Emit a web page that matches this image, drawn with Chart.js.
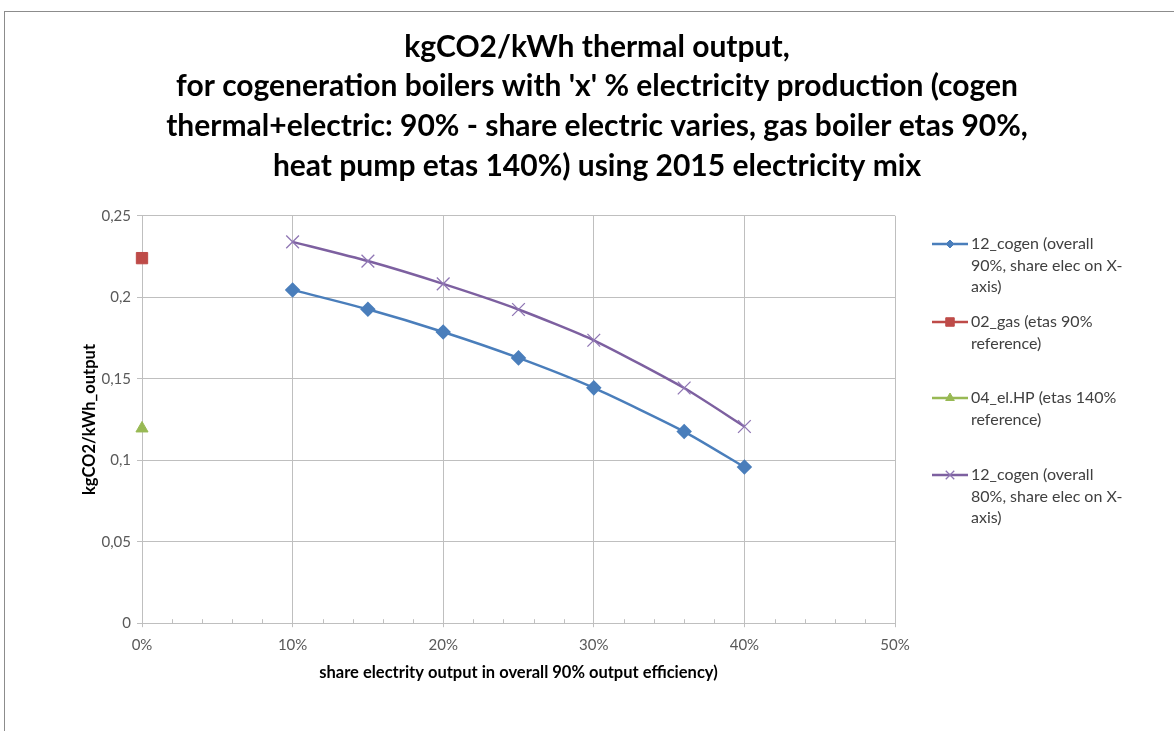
<!DOCTYPE html>
<html>
<head>
<meta charset="utf-8">
<script src="https://cdn.jsdelivr.net/npm/chart.js@4.4.0/dist/chart.umd.min.js"></script>
<style>
  html, body { margin: 0; padding: 0; background: #fff; }
  #wrap { position: relative; width: 1174px; height: 731px; overflow: hidden; }
  #frame { position: absolute; left: 4px; top: 11px; width: 1300px; height: 900px;
           border-left: 1px solid #8c8c8c; border-top: 1px solid #8c8c8c; }
  #chart { position: absolute; left: 0; top: 0; }
</style>
</head>
<body>
<div id="wrap">
  <div id="frame"></div>
  <canvas id="chart" width="1174" height="731"></canvas>
</div>
<script>
// data
const shareElec = [10, 15, 20, 25, 30, 36, 40];
const cogen90 = [0.2045, 0.1926, 0.1787, 0.1628, 0.1444, 0.1176, 0.0958];
const cogen80 = [0.2340, 0.2222, 0.2082, 0.1925, 0.1736, 0.1443, 0.1207];
const gasX = [0];
const gasRef = [0.224];
const hpX = [0];
const hpRef = [0.1195];

const seriesNames = [
    ['12_cogen (overall', '90%, share elec on X-', 'axis)'],
    ['02_gas (etas 90%', 'reference)'],
    ['04_el.HP (etas 140%', 'reference)'],
    ['12_cogen (overall', '80%, share elec on X-', 'axis)']
];
const titleLines = [
    'kgCO2/kWh thermal output,',
    "for cogeneration boilers with 'x' % electricity production (cogen",
    'thermal+electric: 90% - share electric varies, gas boiler etas 90%,',
    'heat pump etas 140%) using 2015 electricity mix'
];

function pts(xs, ys) {
    return xs.map(function(x, i) { return { x: x, y: ys[i] }; });
}

const FONT = 'Lato, "Open Sans", sans-serif';
const GRID = '#bfbfbf';

// minor tick marks on the x axis (every 2%), drawn inside the plot
const minorTicks = {
    id: 'minorTicks',
    afterDatasetsDraw: function(chart) {
        const xs = chart.scales.x, ctx = chart.ctx;
        const y0 = chart.chartArea.bottom;
        ctx.save();
        ctx.strokeStyle = GRID;
        ctx.lineWidth = 1;
        for (let v = 2; v < 50; v += 2) {
            if (v % 10 === 0) continue;
            const px = Math.round(xs.getPixelForValue(v)) + 0.5;
            ctx.beginPath();
            ctx.moveTo(px, y0);
            ctx.lineTo(px, y0 - 4);
            ctx.stroke();
        }
        ctx.restore();
    }
};

// legend with wrapped labels on the right side
const sideLegend = {
    id: 'sideLegend',
    afterDraw: function(chart) {
        const ctx = chart.ctx;
        const tops = [244, 322, 398, 475];
        const lineH = 21.5;
        ctx.save();
        chart.data.datasets.forEach(function(ds, i) {
            const y = tops[i];
            ctx.strokeStyle = ds.borderColor;
            ctx.lineWidth = 2.5;
            ctx.beginPath();
            ctx.moveTo(932, y);
            ctx.lineTo(968, y);
            ctx.stroke();
            ctx.fillStyle = ds.pointBackgroundColor;
            ctx.strokeStyle = ds.pointBorderColor;
            ctx.lineWidth = ds.pointBorderWidth || 1;
            Chart.helpers.drawPoint(ctx, {
                pointStyle: ds.pointStyle,
                radius: ds.legendRadius,
                borderWidth: ds.pointBorderWidth || 1
            }, 950, y);
            ctx.fillStyle = '#404040';
            ctx.font = '16px ' + FONT;
            ctx.textBaseline = 'middle';
            ctx.textAlign = 'left';
            seriesNames[i].forEach(function(line, j) {
                ctx.fillText(line, 971, y + j * lineH);
            });
        });
        ctx.restore();
    }
};

const ctx = document.getElementById('chart').getContext('2d');
new Chart(ctx, {
    type: 'scatter',
    data: {
        datasets: [{
            label: seriesNames[0].join(' '),
            data: pts(shareElec, cogen90),
            showLine: true,
            tension: 0.2,
            borderColor: '#4a7ebb',
            borderWidth: 2.5,
            pointStyle: 'rectRot',
            pointRadius: 6,
            legendRadius: 4,
            pointBackgroundColor: '#4a7ebb',
            pointBorderColor: '#4a7ebb'
        }, {
            label: seriesNames[1].join(' '),
            data: pts(gasX, gasRef),
            showLine: false,
            borderColor: '#be4b48',
            pointStyle: 'rect',
            pointRadius: 8,
            legendRadius: 6,
            pointBackgroundColor: '#be4b48',
            pointBorderColor: '#be4b48'
        }, {
            label: seriesNames[2].join(' '),
            data: pts(hpX, hpRef),
            showLine: false,
            borderColor: '#98b954',
            pointStyle: 'triangle',
            pointRadius: 7,
            legendRadius: 5,
            pointBackgroundColor: '#98b954',
            pointBorderColor: '#98b954'
        }, {
            label: seriesNames[3].join(' '),
            data: pts(shareElec, cogen80),
            showLine: true,
            tension: 0.2,
            borderColor: '#7d60a0',
            borderWidth: 2.5,
            pointStyle: 'crossRot',
            pointRadius: 9,
            legendRadius: 6,
            pointBorderWidth: 1.3,
            pointBackgroundColor: '#7d60a0',
            pointBorderColor: '#8f76b4'
        }]
    },
    options: {
        responsive: false,
        animation: false,
        clip: false,
        layout: { padding: { left: 20, right: 0, top: 0, bottom: 44 } },
        plugins: {
            legend: { display: false },
            tooltip: { enabled: false },
            title: {
                display: true,
                text: titleLines,
                color: '#000',
                font: { family: FONT, size: 30, weight: 'bold', lineHeight: 1.323 },
                padding: { top: 27, bottom: 30 }
            }
        },
        scales: {
            x: {
                type: 'linear',
                min: 0,
                max: 50,
                ticks: {
                    stepSize: 10,
                    color: '#595959',
                    font: { family: FONT, size: 15 },
                    padding: 9,
                    callback: function(v) { return v + '%'; }
                },
                grid: { color: GRID, tickColor: GRID, tickLength: 4 },
                border: { color: GRID },
                title: {
                    display: true,
                    text: 'share electrity output in overall 90% output efficiency)',
                    color: '#000',
                    font: { family: FONT, size: 16.5, weight: 'bold' },
                    padding: { top: 0 }
                }
            },
            y: {
                min: 0,
                max: 0.25,
                ticks: {
                    stepSize: 0.05,
                    color: '#595959',
                    font: { family: FONT, size: 15 },
                    padding: 6,
                    callback: function(v) { return String(Math.round(v * 100) / 100).replace('.', ','); }
                },
                grid: { color: GRID, tickColor: GRID, tickLength: 5 },
                border: { color: GRID },
                title: {
                    display: true,
                    text: 'kgCO2/kWh_output',
                    color: '#000',
                    font: { family: FONT, size: 16.5, weight: 'bold' },
                    padding: { top: 60, bottom: 4 }
                },
                afterFit: function(s) { s.width = 122; }
            },
            yr: {
                position: 'right',
                display: true,
                grid: { display: false },
                border: { display: false },
                ticks: { display: false },
                afterFit: function(s) { s.width = 279; }
            }
        }
    },
    plugins: [minorTicks, sideLegend]
});
</script>
</body>
</html>
